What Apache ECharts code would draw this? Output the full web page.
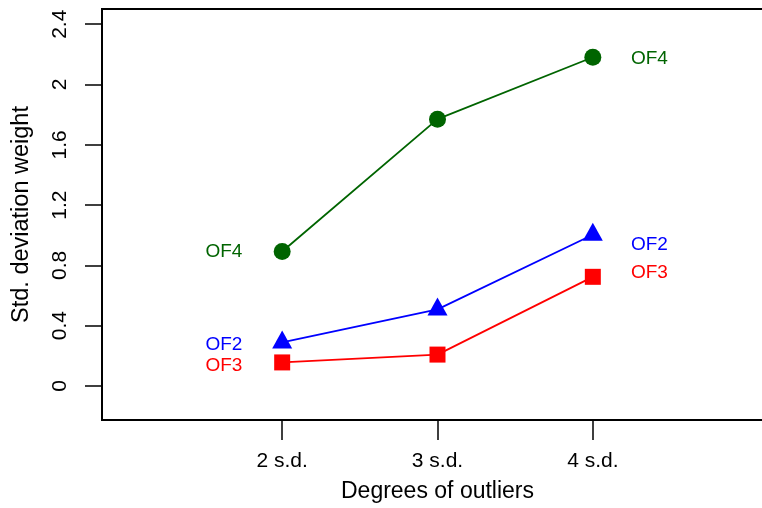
<!DOCTYPE html>
<html>
<head>
<meta charset="utf-8">
<script src="https://cdn.jsdelivr.net/npm/echarts@6/dist/echarts.min.js"></script>
<style>html,body{margin:0;padding:0;background:#fff;overflow:hidden;width:762px;height:508px;}#c{width:800px;height:508px;}</style>
</head>
<body>
<div id="c"></div>
<script>
// Data
const xPositions = [2, 3, 4];
const categories = ['2 s.d.', '3 s.d.', '4 s.d.'];
const of2 = [0.289, 0.508, 1.003];
const of3 = [0.156, 0.208, 0.724];
const of4 = [0.892, 1.770, 2.181];
const yTicks = [0, 0.4, 0.8, 1.2, 1.6, 2, 2.4];
const yTickLabels = ['0', '0.4', '0.8', '1.2', '1.6', '2', '2.4'];
// Text labels placed in data coordinates [x, y]
const of2LabelPos = [[1.625, 0.274], [4.364, 0.94]];
const of3LabelPos = [[1.625, 0.137], [4.364, 0.749]];
const of4LabelPos = [[1.625, 0.888], [4.364, 2.173]];

const FONT = '"Liberation Sans", Arial, sans-serif';
const GREEN = '#006400', BLUE = '#0000FF', RED = '#FF0000';

function pts(ys) { return xPositions.map((x, i) => [x, ys[i]]); }
function labelSeries(name, pos, color) {
  return {
    type: 'scatter', name: name, symbolSize: 0, silent: true,
    itemStyle: { opacity: 1, color: color },
    data: pos.map(p => ({ value: p, name: name })),
    label: { show: true, position: 'inside', formatter: '{b}', color: color,
             fontFamily: FONT, fontSize: 19, align: 'center', verticalAlign: 'middle' },
    z: 5
  };
}

const axisLineStyle = { color: '#000', width: 2 };
const chart = echarts.init(document.getElementById('c'), null, { renderer: 'canvas', width: 800, height: 508 });
chart.setOption({
  animation: false,
  backgroundColor: '#fff',
  grid: { left: 102, top: 9, right: 27, bottom: 86, show: true, borderColor: '#000', borderWidth: 2 },
  xAxis: {
    type: 'value', min: 0.84, max: 5.16,
    name: 'Degrees of outliers', nameLocation: 'middle', nameGap: 60,
    nameTextStyle: { fontFamily: FONT, fontSize: 23, color: '#000' },
    axisLine: { show: true, onZero: false, lineStyle: axisLineStyle },
    splitLine: { show: false },
    axisTick: { show: true, customValues: xPositions, length: 20, lineStyle: { color: '#000', width: 1.5 } },
    axisLabel: { show: true, customValues: xPositions, margin: 31, color: '#000', fontFamily: FONT, fontSize: 21,
                 formatter: v => { const i = xPositions.indexOf(v); return i >= 0 ? categories[i] : ''; } }
  },
  yAxis: {
    type: 'value', min: -0.226, max: 2.501,
    name: 'Std. deviation weight', nameLocation: 'middle', nameGap: 68, nameRotate: 90,
    nameTextStyle: { fontFamily: FONT, fontSize: 23.5, color: '#000' },
    axisLine: { show: true, onZero: false, lineStyle: axisLineStyle },
    splitLine: { show: false },
    axisTick: { show: true, customValues: yTicks, length: 17, lineStyle: { color: '#000', width: 1.5 } },
    axisLabel: { show: true, customValues: yTicks, rotate: 90, margin: 31, color: '#000', fontFamily: FONT, fontSize: 21,
                 formatter: v => { const i = yTicks.indexOf(v); return i >= 0 ? yTickLabels[i] : ''; } }
  },
  series: [
    { type: 'line', name: 'OF4', data: pts(of4), symbol: 'circle', symbolSize: 17,
      itemStyle: { color: GREEN }, lineStyle: { color: GREEN, width: 1.8 }, z: 3 },
    { type: 'line', name: 'OF2', data: pts(of2), symbol: 'triangle', symbolSize: [20, 18], symbolOffset: [0, -3],
      itemStyle: { color: BLUE }, lineStyle: { color: BLUE, width: 1.8 }, z: 3 },
    { type: 'line', name: 'OF3', data: pts(of3), symbol: 'rect', symbolSize: 16,
      itemStyle: { color: RED }, lineStyle: { color: RED, width: 1.8 }, z: 3 },
    labelSeries('OF4', of4LabelPos, GREEN),
    labelSeries('OF2', of2LabelPos, BLUE),
    labelSeries('OF3', of3LabelPos, RED)
  ]
});
</script>
</body>
</html>
